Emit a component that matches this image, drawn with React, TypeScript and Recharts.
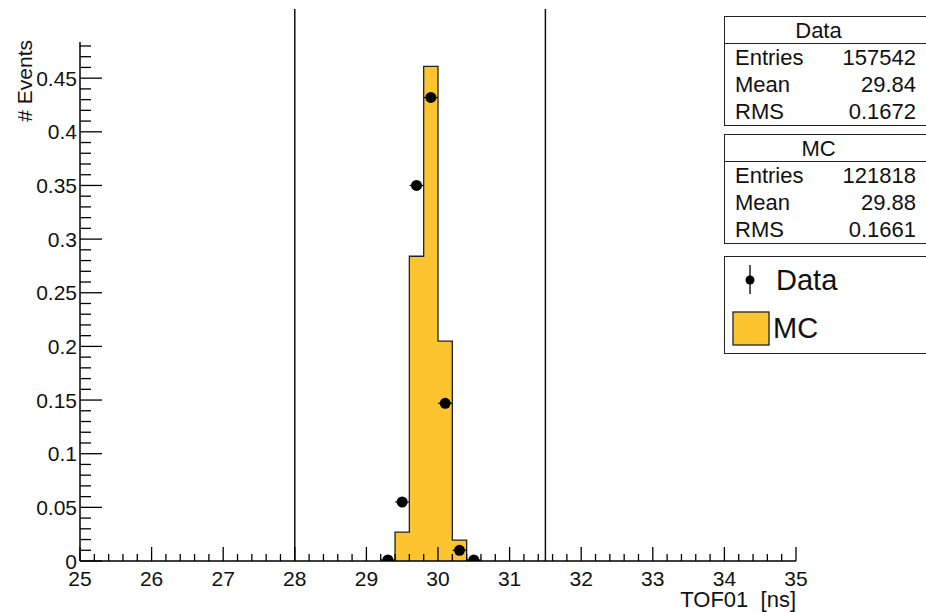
import React from 'react';
import { ComposedChart, Area, Scatter, XAxis, YAxis, ReferenceLine } from 'recharts';

// TOF01 distribution, normalised to unit area
const binLowEdges = [29.4, 29.6, 29.8, 30.0, 30.2];
const binWidth = 0.2;
const mcValues = [0.027, 0.284, 0.461, 0.205, 0.0195];

const dataCenters = [29.3, 29.5, 29.7, 29.9, 30.1, 30.3, 30.5];
const dataValues = [0.001, 0.055, 0.350, 0.432, 0.147, 0.010, 0.001];

const xMajorTicks = [25, 26, 27, 28, 29, 30, 31, 32, 33, 34, 35];
const yMajorTicks = [0, 0.05, 0.1, 0.15, 0.2, 0.25, 0.3, 0.35, 0.4, 0.45];
const cutLines = [28, 31.5];

const dataStats = [['Entries', '157542'], ['Mean', '29.84'], ['RMS', '0.1672']];
const mcStats = [['Entries', '121818'], ['Mean', '29.88'], ['RMS', '0.1661']];

const FILL = '#FCC530';
const FONT = '"Liberation Sans", Arial, Helvetica, sans-serif';

// step outline for the MC histogram
const mcSteps: { x: number; mc: number }[] = [{ x: binLowEdges[0], mc: 0 }];
binLowEdges.forEach((lo, i) => mcSteps.push({ x: lo, mc: mcValues[i] }));
mcSteps.push({ x: binLowEdges[binLowEdges.length - 1] + binWidth, mc: 0 });

const dataPoints = dataCenters.map((x, i) => ({ x, y: dataValues[i] }));

// minor ticks: 5 divisions between y majors, 5 between x majors
const yTicks: number[] = [];
for (let i = 0; i < 49; i++) yTicks.push(Math.round(i * 100) / 10000);
const xTicks: number[] = [];
for (let i = 0; i <= 50; i++) xTicks.push(Math.round((25 + i * 0.2) * 10) / 10);

const isMajorY = (v: number) => yMajorTicks.some((m) => Math.abs(m - v) < 1e-6);
const isMajorX = (v: number) => xMajorTicks.some((m) => Math.abs(m - v) < 1e-6);

const YTick = (props: any) => {
  const { x, y, payload } = props;
  const major = isMajorY(payload.value);
  return (
    <g>
      <line x1={x} y1={y} x2={x + (major ? 22 : 11)} y2={y} stroke="#000" strokeWidth={1.3} />
      {major && (
        <text x={x - 3} y={y + 7.5} textAnchor="end" fontSize={21} fontFamily={FONT} fill="#111">
          {String(payload.value)}
        </text>
      )}
    </g>
  );
};

const XTick = (props: any) => {
  const { x, y, payload } = props;
  const major = isMajorX(payload.value);
  return (
    <g>
      <line x1={x} y1={y} x2={x} y2={y - (major ? 14 : 7)} stroke="#000" strokeWidth={1.3} />
      {major && (
        <text x={x} y={y + 25} textAnchor="middle" fontSize={21} fontFamily={FONT} fill="#111">
          {String(payload.value)}
        </text>
      )}
    </g>
  );
};

const DataMarker = (props: any) => {
  const { cx, cy } = props;
  return (
    <g>
      <line x1={cx - 7} y1={cy} x2={cx + 7} y2={cy} stroke="#000" strokeWidth={1.2} />
      <circle cx={cx} cy={cy} r={5.5} fill="#000" />
    </g>
  );
};

const StatBox = ({ title, rows, top }: { title: string; rows: string[][]; top: number }) => (
  <div
    style={{
      position: 'absolute', left: 724, top, width: 220, background: '#fff',
      border: '1.5px solid #222', fontFamily: FONT, fontSize: 22, color: '#111',
    }}
  >
    <div style={{ height: 26, lineHeight: '27px', borderBottom: '1.5px solid #222' }}>
      <div style={{ width: 187, textAlign: 'center' }}>{title}</div>
    </div>
    {rows.map(([k, v]) => (
      <div key={k} style={{ display: 'flex', width: 181, paddingLeft: 10, height: 27, lineHeight: '28px' }}>
        <span style={{ flex: 1 }}>{k}</span>
        <span>{v}</span>
      </div>
    ))}
  </div>
);

export default function App() {
  return (
    <div style={{ position: 'fixed', left: 0, top: 0, width: 926, height: 612, background: '#fff', overflow: 'hidden' }}>
      <ComposedChart width={926} height={612} margin={{ top: 42, right: 130, left: 0, bottom: 0 }}>
        <XAxis
          type="number" dataKey="x" domain={[25, 35]} ticks={xTicks} interval={0}
          tick={<XTick />} tickSize={0} tickMargin={0} height={51}
          axisLine={{ stroke: '#000', strokeWidth: 1.5 }} allowDataOverflow
        />
        <XAxis xAxisId="top" orientation="top" type="number" domain={[25, 35]} tick={false} height={0}
          axisLine={{ stroke: '#000', strokeWidth: 1.5 }} />
        <YAxis
          type="number" domain={[0, 0.4837]} ticks={yTicks} interval={0}
          tick={<YTick />} tickSize={0} tickMargin={0} width={80}
          axisLine={{ stroke: '#000', strokeWidth: 1.5 }} allowDataOverflow
          label={{
            content: () => (
              <text transform="translate(32,40) rotate(-90)" textAnchor="end" fontSize={21} fontFamily={FONT} fill="#111">
                # Events
              </text>
            ),
          }}
        />
        <YAxis yAxisId="right" orientation="right" type="number" domain={[0, 1]} tick={false} width={0}
          axisLine={{ stroke: '#000', strokeWidth: 1.5 }} />
        <Area
          data={mcSteps} type="stepAfter" dataKey="mc" stroke="#222" strokeWidth={1.3}
          fill={FILL} fillOpacity={1} isAnimationActive={false} dot={false} activeDot={false}
        />
        <Scatter data={dataPoints} dataKey="y" shape={<DataMarker />} isAnimationActive={false} />
        {cutLines.map((c) => (
          <ReferenceLine
            key={c} x={c} ifOverflow="visible"
            shape={(p: any) => (
              <line x1={p.x1} y1={9} x2={p.x2} y2={Math.max(p.y1, p.y2)} stroke="#111" strokeWidth={1.5} />
            )}
          />
        ))}
        <text x={796} y={607} textAnchor="end" fontSize={22} fontFamily={FONT} fill="#111" style={{ whiteSpace: 'pre' }}>
          {'TOF01  [ns]'}
        </text>
      </ComposedChart>

      <StatBox title="Data" rows={dataStats} top={16} />
      <StatBox title="MC" rows={mcStats} top={134} />

      <div
        style={{
          position: 'absolute', left: 724, top: 256, width: 220, height: 96, background: '#fff',
          border: '1.5px solid #222', fontFamily: FONT, color: '#111',
        }}
      >
        <svg width={60} height={96} style={{ position: 'absolute', left: 0, top: 0 }}>
          <line x1={25} y1={8} x2={25} y2={37} stroke="#000" strokeWidth={1.3} />
          <circle cx={25} cy={23} r={4.5} fill="#000" />
          <rect x={8} y={55} width={36} height={33} fill={FILL} stroke="#222" strokeWidth={1.3} />
        </svg>
        <div style={{ position: 'absolute', left: 51, top: 7, fontSize: 29, lineHeight: '32px' }}>Data</div>
        <div style={{ position: 'absolute', left: 48, top: 55, fontSize: 29, lineHeight: '32px' }}>MC</div>
      </div>
    </div>
  );
}
